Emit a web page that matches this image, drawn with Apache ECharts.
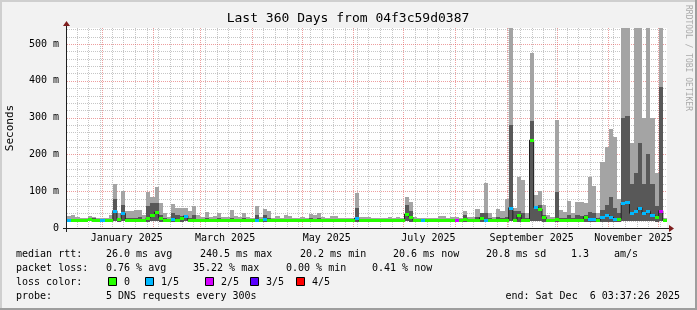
<!DOCTYPE html>
<html><head><meta charset="utf-8">
<script src="https://cdn.jsdelivr.net/npm/echarts@6/dist/echarts.min.js"></script>
<style>html,body{margin:0;padding:0;background:#f2f2f2}#c{width:697px;height:310px}</style>
</head><body><div id="c"></div>
<script>
// ---- time frame ----
const END = Date.UTC(2025, 11, 6, 3, 37, 26);
const DAY = 86400000;
const START = END - 360 * DAY;
const BIN = 2.5 * DAY;            // one value per 2.5 days -> 144 bins
const LABEL_SHIFT = 15 * DAY;      // rrdtool centres month labels half a month right

// ---- data (ms) ----
const median = [
21,21,21,21,21,24,22,21,21,21, 21,47,25,40,22,21,21,21,21,28,
35,43,27,21,21,25,22,26,33,21, 21,21,21,21,21,21,21,21,21,21,
21,21,21,21,21,22,21,24,21,21, 21,21,21,21,21,21,21,21,21,21,
21,21,21,21,21,21,21,21,21,27, 21,21,21,21,21,21,21,21,21,21,
21,38,30,21,21,21,21,21,21,21, 21,21,21,21,21,25,21,21,21,28,
22,21,21,21,21,21,55,22,35,22, 21,239,56,52,30,21,21,25,21,21,
21,21,21,21,31,25,25,21,30,35, 30,25,25,68,72,40,45,55,40,45,
35,30,47,21];
const smokeLo = [
17,17,17,17,17,18,17,17,17,17, 17,18,17,18,17,17,17,17,17,17,
18,18,17,17,17,17,17,17,18,17, 17,17,17,17,17,17,17,17,17,17,
17,17,17,17,17,17,17,17,17,17, 17,17,17,17,17,17,17,17,17,17,
17,17,17,17,17,17,17,17,17,17, 17,17,17,17,17,17,17,17,17,17,
17,18,17,17,17,17,17,17,17,17, 17,17,17,17,17,17,17,17,17,17,
17,17,17,17,17,17,18,17,17,17, 17,18,18,18,17,17,17,17,17,17,
17,17,17,17,17,17,17,17,17,17, 17,17,17,18,18,18,18,18,18,18,
18,17,18,17];
const smokeDarkHi = [
24,25,23,23,23,27,26,23,23,23, 25,80,28,62,28,27,28,30,24,60,
67,69,35,28,23,40,35,32,35,27, 35,24,23,27,23,24,26,23,23,28,
24,23,26,23,23,35,23,35,28,23, 24,23,25,24,23,23,23,23,26,25,
27,23,23,24,24,23,23,23,23,53, 23,23,23,23,23,23,23,23,23,23,
23,62,45,23,23,23,23,23,23,25, 25,23,23,23,23,35,23,23,30,40,
40,28,23,30,28,30,280,45,45,40, 26,290,60,62,35,25,23,99,28,27,
35,26,35,33,35,44,40,27,50,62, 85,55,40,300,305,120,150,231,120,200,
120,60,384,22];
const smokeHi = [
33,35,30,27,28,32,30,27,28,27, 35,120,40,100,45,45,48,50,35,99,
85,112,67,40,30,65,55,53,53,45, 60,35,30,43,30,32,42,30,30,48,
33,30,42,30,28,61,30,52,45,28, 32,28,35,33,28,27,29,28,38,36,
40,30,28,32,32,28,27,28,27,94, 30,30,29,27,28,27,28,29,27,29,
28,84,70,29,28,28,28,27,28,33, 33,28,29,29,27,46,29,30,52,40,
123,40,29,52,45,78,600,55,139,130, 40,476,90,101,62,35,30,293,49,44,
73,40,71,71,69,139,115,40,180,221, 270,248,80,600,600,230,600,600,300,600,
300,150,600,26];
// loss level per bin: 0 = no loss, 1 = 1/5, 2 = 2/5 ...
const lossLevel = [
1,0,0,0,0,0,0,0,1,0, 0,1,0,1,0,0,0,0,0,0,
0,0,0,0,0,1,0,0,1,0, 0,0,0,0,0,0,0,0,0,0,
0,0,0,0,0,1,0,1,0,0, 0,0,0,0,0,0,0,0,0,0,
0,0,0,0,0,0,0,0,0,1, 0,0,0,0,0,0,0,0,0,0,
0,0,0,0,0,1,0,0,0,0, 0,0,0,2,0,0,0,0,0,0,
1,0,0,0,0,0,1,0,0,0, 0,0,1,0,0,0,0,0,0,0,
0,0,0,0,0,1,1,0,1,1, 1,1,0,1,1,1,1,1,1,1,
1,0,2,0];

const yMax = 543.5;
const yTickStep = 100;
const MONTHS = ['January','February','March','April','May','June','July','August','September','October','November','December'];
const lossLabels = ['0', '1/5', '2/5', '3/5', '4/5'];
const lossColors = ['#26ff00', '#00b8ff', '#d400ff', '#5a00ff', '#ff0000'];

const statLines = [
  [[16,'median rtt:'],[106,'26.0 ms avg'],[200,'240.5 ms max'],[300,'20.2 ms min'],[393,'20.6 ms now'],[486,'20.8 ms sd'],[571,'1.3'],[614,'am/s']],
  [[16,'packet loss:'],[106,'0.76 % avg'],[193,'35.22 % max'],[286,'0.00 % min'],[372,'0.41 % now']],
  [[16,'loss color:']],
  [[16,'probe:'],[106,'5 DNS requests every 300s']]
];
const endText = 'end: Sat Dec  6 03:37:26 2025';
const titleText = 'Last 360 Days from 04f3c59d0387';

// ---- layout / style ----
const G = {left: 67, top: 28, width: 600, height: 200};
const FONT = '"DejaVu Sans Mono", monospace';
const C_LIGHT = '#a4a4a4', C_DARK = '#585858';
const C_GRID = '#c6c6c6', C_MGRID = 'rgba(222,79,79,0.55)';
const C_AXIS = '#1f1f1f', C_ARROW = '#7f1f1f';
const WEEK_DAY = 2; // minor grid weekday (as drawn by rrdtool here)

// ---- rows ----
const smokeRows = median.map((m, i) => [START + i * BIN, START + (i + 1) * BIN, smokeLo[i], smokeDarkHi[i], smokeHi[i]]);
const medianPts = median.map((m, i) => [START + (i + 0.5) * BIN, m]);
const lossRows = median.map((m, i) => [START + i * BIN, START + (i + 1) * BIN, m, lossLevel[i]]);

// grid lines: monthly (major) and weekly (minor)
const vGrid = [];
{
  let d = new Date(START); d = Date.UTC(d.getUTCFullYear(), d.getUTCMonth(), d.getUTCDate());
  for (let t = d; t <= END; t += DAY) {
    const dt = new Date(t);
    if (t < START) continue;
    if (dt.getUTCDate() === 1) vGrid.push([t, 0, 1]);
    else if (dt.getUTCDay() === WEEK_DAY) vGrid.push([t, 0, 0]);
  }
}
const hGrid = [];
for (let v = 20; v < yMax; v += 20) hGrid.push([START, v, v % 100 === 0 ? 1 : 0]);

function smokeItem(params, api) {
  const a = api.coord([api.value(0), api.value(2)]);
  const b = api.coord([api.value(1), api.value(4)]);
  const c = api.coord([api.value(1), api.value(3)]);
  const x0 = Math.round(a[0]), x1 = Math.round(b[0]);
  const yLo = Math.round(a[1]), yHi = Math.round(b[1]), yD = Math.round(c[1]);
  return {type: 'group', children: [
    {type: 'rect', shape: {x: x0, y: yHi, width: x1 - x0, height: yLo - yHi}, style: {fill: C_LIGHT}},
    {type: 'rect', shape: {x: x0, y: yD, width: x1 - x0, height: Math.max(0, yLo - yD)}, style: {fill: C_DARK}}
  ]};
}
function lossItem(params, api) {
  const a = api.coord([api.value(0), api.value(2)]);
  const b = api.coord([api.value(1), api.value(2)]);
  const x0 = Math.round(a[0]), x1 = Math.round(b[0]);
  const yc = Math.round(a[1]);
  return {type: 'rect', shape: {x: x0, y: yc - 1, width: x1 - x0, height: 3}, style: {fill: lossColors[api.value(3)]}};
}
function vGridItem(params, api) {
  const p = api.coord([api.value(0), 0]);
  const x = Math.round(p[0]) + 0.5;
  const cs = params.coordSys;
  return {type: 'line', shape: {x1: x, y1: cs.y, x2: x, y2: cs.y + cs.height},
    style: {stroke: api.value(2) ? C_MGRID : C_GRID, lineWidth: 1, lineDash: [1, 1]}};
}
function hGridItem(params, api) {
  const p = api.coord([api.value(0), api.value(1)]);
  const y = Math.round(p[1]) + 0.5;
  const cs = params.coordSys;
  return {type: 'line', shape: {x1: cs.x, y1: y, x2: cs.x + cs.width, y2: y},
    style: {stroke: api.value(2) ? C_MGRID : C_GRID, lineWidth: 1, lineDash: [1, 1]}};
}

// ---- graphic decorations ----
const graphic = [];
graphic.push({type: 'rect', shape: {x: 0, y: 0, width: 697, height: 2}, style: {fill: '#cfcfcf'}, silent: true});
graphic.push({type: 'rect', shape: {x: 0, y: 0, width: 2, height: 310}, style: {fill: '#cfcfcf'}, silent: true});
graphic.push({type: 'rect', shape: {x: 0, y: 308, width: 697, height: 2}, style: {fill: '#9e9e9e'}, silent: true});
graphic.push({type: 'rect', shape: {x: 695, y: 0, width: 2, height: 310}, style: {fill: '#9e9e9e'}, silent: true});
graphic.push({type: 'text', x: 348, y: 19, style: {text: titleText, font: '13px ' + FONT, fill: '#000', align: 'center', verticalAlign: 'middle'}});
graphic.push({type: 'text', x: 10, y: 128, rotation: Math.PI / 2, style: {text: 'Seconds', font: '11px ' + FONT, fill: '#000', align: 'center', verticalAlign: 'middle'}});
graphic.push({type: 'text', x: 688, y: 5, rotation: -Math.PI / 2, style: {text: 'RRDTOOL / TOBI OETIKER', font: '8px ' + FONT, fill: '#aaaaaa', align: 'left', verticalAlign: 'middle'}});
const ox = G.left, oy = G.top + G.height;
graphic.push({type: 'line', shape: {x1: ox - 4, y1: oy + 0.5, x2: ox + G.width + 4, y2: oy + 0.5}, style: {stroke: C_AXIS, lineWidth: 1}, z: 50});
graphic.push({type: 'line', shape: {x1: ox - 0.5, y1: oy + 4, x2: ox - 0.5, y2: G.top - 4}, style: {stroke: C_AXIS, lineWidth: 1}, z: 50});
graphic.push({type: 'polygon', shape: {points: [[ox + G.width + 2, oy - 3], [ox + G.width + 7, oy + 0.5], [ox + G.width + 2, oy + 4]]}, style: {fill: C_ARROW}, z: 51});
graphic.push({type: 'polygon', shape: {points: [[ox - 4, G.top - 2], [ox - 0.5, G.top - 7], [ox + 3, G.top - 2]]}, style: {fill: C_ARROW}, z: 51});
const lineY = [254, 268, 282, 296];
statLines.forEach((segs, li) => segs.forEach(([x, t]) => {
  graphic.push({type: 'text', x: x, y: lineY[li], style: {text: t, font: '10px ' + FONT, fill: '#000', verticalAlign: 'middle'}});
}));
graphic.push({type: 'text', x: 680, y: lineY[3], style: {text: endText, font: '10px ' + FONT, fill: '#000', align: 'right', verticalAlign: 'middle'}});
const boxX = [108, 145, 205, 250, 296];
lossLabels.forEach((lab, i) => {
  graphic.push({type: 'rect', shape: {x: boxX[i] + 0.5, y: lineY[2] - 4.5, width: 8, height: 8}, style: {fill: lossColors[i], stroke: '#000', lineWidth: 1}});
  graphic.push({type: 'text', x: boxX[i] + 16, y: lineY[2], style: {text: lab, font: '10px ' + FONT, fill: '#000', verticalAlign: 'middle'}});
});

const chart = echarts.init(document.getElementById('c'), null, {renderer: 'canvas'});
chart.setOption({
  animation: false,
  useUTC: true,
  backgroundColor: '#f2f2f2',
  grid: {left: G.left, top: G.top, width: G.width, height: G.height, show: true, backgroundColor: '#ffffff', borderWidth: 0, containLabel: false},
  xAxis: [
    {type: 'time', min: START, max: END, axisLine: {show: false}, axisTick: {show: false}, axisLabel: {show: false}, splitLine: {show: false}},
    {type: 'time', position: 'bottom', min: START - LABEL_SHIFT, max: END - LABEL_SHIFT,
     axisLine: {show: false}, axisTick: {show: false}, splitLine: {show: false},
     axisLabel: {show: true, showMinLabel: false, showMaxLabel: false, hideOverlap: false, margin: 5,
       fontFamily: FONT, fontSize: 10, color: '#000',
       formatter: function (v) {
         const d = new Date(v);
         if (d.getUTCDate() !== 1 || d.getUTCHours() !== 0 || d.getUTCMonth() % 2 !== 0) return '';
         return MONTHS[d.getUTCMonth()] + ' ' + d.getUTCFullYear();
       }}}
  ],
  yAxis: {type: 'value', min: 0, max: yMax, interval: yTickStep,
    axisLine: {show: false}, axisTick: {show: false}, splitLine: {show: false},
    axisLabel: {margin: 8, fontFamily: FONT, fontSize: 10, color: '#000', showMaxLabel: true,
      formatter: v => (v % yTickStep !== 0 ? '' : (v === 0 ? '0' : v + ' m'))}},
  graphic: graphic,
  series: [
    {type: 'custom', name: 'vgrid', renderItem: vGridItem, data: vGrid, z: 1, encode: {x: 0, y: 1}, silent: true},
    {type: 'custom', name: 'hgrid', renderItem: hGridItem, data: hGrid, z: 1, encode: {x: 0, y: 1}, silent: true},
    {type: 'custom', name: 'smoke', renderItem: smokeItem, data: smokeRows, clip: true, z: 2,
     encode: {x: [0, 1], y: [2, 3, 4]}, silent: true},
    {type: 'line', name: 'median', data: medianPts, step: 'middle', symbol: 'none', z: 3, silent: true,
     lineStyle: {color: '#202020', width: 1}},
    {type: 'custom', name: 'loss', renderItem: lossItem, data: lossRows, clip: true, z: 4,
     encode: {x: [0, 1], y: 2}, silent: true}
  ]
});
</script></body></html>
